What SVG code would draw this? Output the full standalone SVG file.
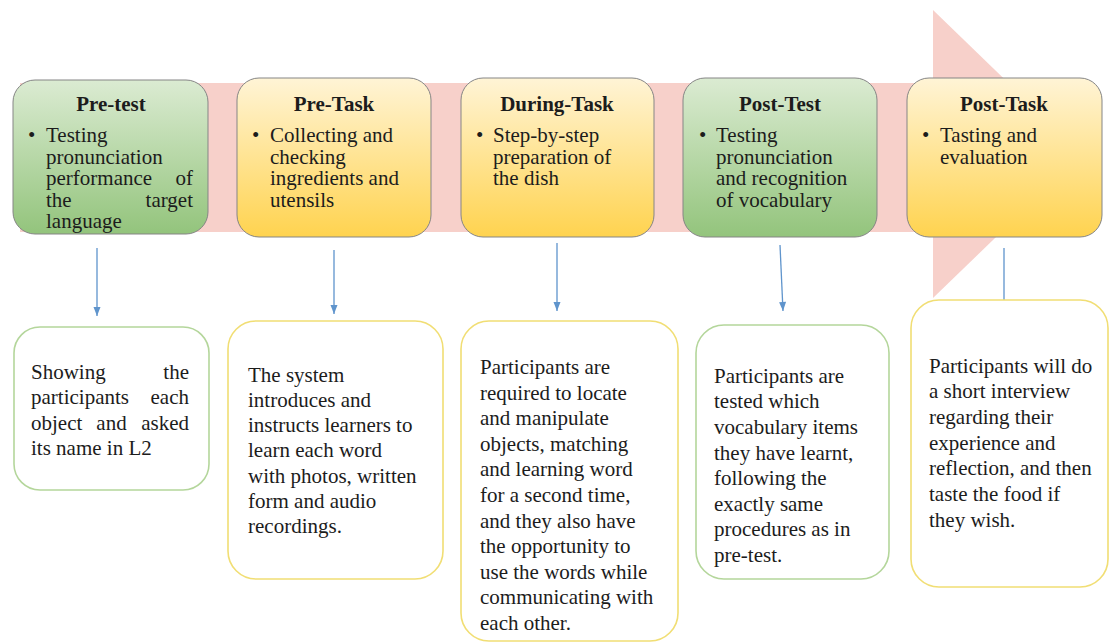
<svg xmlns="http://www.w3.org/2000/svg" width="1110" height="643" viewBox="0 0 1110 643" font-family="Liberation Serif, serif">
<defs>
<linearGradient id="gGreen" x1="0" y1="0" x2="0" y2="1">
<stop offset="0" stop-color="#dbebd2"/>
<stop offset="1" stop-color="#93c47c"/>
</linearGradient>
<linearGradient id="gYellow" x1="0" y1="0" x2="0" y2="1">
<stop offset="0" stop-color="#fff4d6"/>
<stop offset="1" stop-color="#ffd34f"/>
</linearGradient>
<marker id="ah" markerUnits="userSpaceOnUse" markerWidth="10" markerHeight="10" viewBox="0 0 10 10" refX="10" refY="5" orient="auto">
<path d="M1,1.5 L10,5 L1,8.5 Z" fill="#5f94cc"/>
</marker>
</defs>
<style>
text{font-family:"Liberation Serif",serif;font-size:21px;fill:#1c1c1c}
.title{font-weight:bold;text-anchor:middle}
.end{text-anchor:end}
.mid{text-anchor:middle}
.top-green{fill:url(#gGreen);stroke:#858585;stroke-width:1}
.top-yellow{fill:url(#gYellow);stroke:#858585;stroke-width:1}
.low-green{fill:#ffffff;stroke:#b4d69b;stroke-width:1.6}
.low-yellow{fill:#ffffff;stroke:#f1de74;stroke-width:1.6}
.conn{stroke:#5f94cc;stroke-width:1.3;fill:none;marker-end:url(#ah)}
</style>
<rect width="1110" height="643" fill="#ffffff"/>
<g id="bigarrow">
<rect x="20" y="83" width="916" height="149" fill="#f7d0ca"/>
<polygon points="933,10 1082,154 933,298" fill="#f7d0ca"/>
</g>
<g id="pretest">
<rect class="top-green" x="13" y="80" width="195" height="154" rx="22"/>
<text class="title" x="111" y="111">Pre-test</text>
<text x="28" y="142">•</text>
<text x="46" y="142">Testing</text>
<text x="46" y="164">pronunciation</text>
<text x="46" y="185">performance</text>
<text class="end" x="193" y="185">of</text>
<text x="46" y="207">the</text>
<text class="end" x="193" y="207">target</text>
<text x="46" y="228">language</text>
</g>
<g id="pretask">
<rect class="top-yellow" x="237" y="78" width="194" height="159" rx="22"/>
<text class="title" x="334" y="111">Pre-Task</text>
<text x="252" y="142">•</text>
<text x="270" y="142">Collecting and</text>
<text x="270" y="164">checking</text>
<text x="270" y="185">ingredients and</text>
<text x="270" y="207">utensils</text>
</g>
<g id="duringtask">
<rect class="top-yellow" x="461" y="78" width="193" height="159" rx="22"/>
<text class="title" x="557" y="111">During-Task</text>
<text x="476" y="142">•</text>
<text x="493" y="142">Step-by-step</text>
<text x="493" y="164">preparation of</text>
<text x="493" y="185">the dish</text>
</g>
<g id="posttest">
<rect class="top-green" x="683" y="78" width="194" height="159" rx="22"/>
<text class="title" x="780" y="111">Post-Test</text>
<text x="699" y="142">•</text>
<text x="716" y="142">Testing</text>
<text x="716" y="164">pronunciation</text>
<text x="716" y="185">and recognition</text>
<text x="716" y="207">of vocabulary</text>
</g>
<g id="posttask">
<rect class="top-yellow" x="907" y="78" width="195" height="159" rx="22"/>
<text class="title" x="1004" y="111">Post-Task</text>
<text x="922" y="142">•</text>
<text x="940" y="142">Tasting and</text>
<text x="940" y="164">evaluation</text>
</g>
<g id="connectors">
<line class="conn" x1="97" y1="248" x2="97" y2="316"/>
<line class="conn" x1="334" y1="250" x2="334" y2="314"/>
<line class="conn" x1="557" y1="243" x2="557" y2="311"/>
<line class="conn" x1="780" y1="245" x2="783" y2="311"/>
<line class="conn" x1="1004" y1="248" x2="1004" y2="316"/>
</g>
<g id="desc-pretest">
<rect class="low-green" x="14" y="327" width="195" height="163" rx="26"/>
<text x="31" y="379">Showing</text>
<text class="end" x="189" y="379">the</text>
<text x="31" y="404">participants</text>
<text class="end" x="189" y="404">each</text>
<text x="31" y="430">object</text>
<text class="mid" x="111.5" y="430">and</text>
<text class="end" x="189" y="430">asked</text>
<text x="31" y="455">its name in L2</text>
</g>
<g id="desc-pretask">
<rect class="low-yellow" x="228" y="321" width="215" height="258" rx="28"/>
<text x="248" y="382">The system</text>
<text x="248" y="407">introduces and</text>
<text x="248" y="432">instructs learners to</text>
<text x="248" y="457">learn each word</text>
<text x="248" y="483">with photos, written</text>
<text x="248" y="508">form and audio</text>
<text x="248" y="533">recordings.</text>
</g>
<g id="desc-duringtask">
<rect class="low-yellow" x="461" y="321" width="217" height="320" rx="28"/>
<text x="480" y="374">Participants are</text>
<text x="480" y="400">required to locate</text>
<text x="480" y="425">and manipulate</text>
<text x="480" y="451">objects, matching</text>
<text x="480" y="476">and learning word</text>
<text x="480" y="502">for a second time,</text>
<text x="480" y="528">and they also have</text>
<text x="480" y="553">the opportunity to</text>
<text x="480" y="579">use the words while</text>
<text x="480" y="604">communicating with</text>
<text x="480" y="630">each other.</text>
</g>
<g id="desc-posttest">
<rect class="low-green" x="696" y="325" width="193" height="254" rx="28"/>
<text x="714" y="383">Participants are</text>
<text x="714" y="408">tested which</text>
<text x="714" y="434">vocabulary items</text>
<text x="714" y="460">they have learnt,</text>
<text x="714" y="485">following the</text>
<text x="714" y="511">exactly same</text>
<text x="714" y="536">procedures as in</text>
<text x="714" y="562">pre-test.</text>
</g>
<g id="desc-posttask">
<rect class="low-yellow" x="911" y="300" width="197" height="287" rx="28"/>
<text x="929" y="373">Participants will do</text>
<text x="929" y="398">a short interview</text>
<text x="929" y="424">regarding their</text>
<text x="929" y="450">experience and</text>
<text x="929" y="475">reflection, and then</text>
<text x="929" y="501">taste the food if</text>
<text x="929" y="527">they wish.</text>
</g>
</svg>
